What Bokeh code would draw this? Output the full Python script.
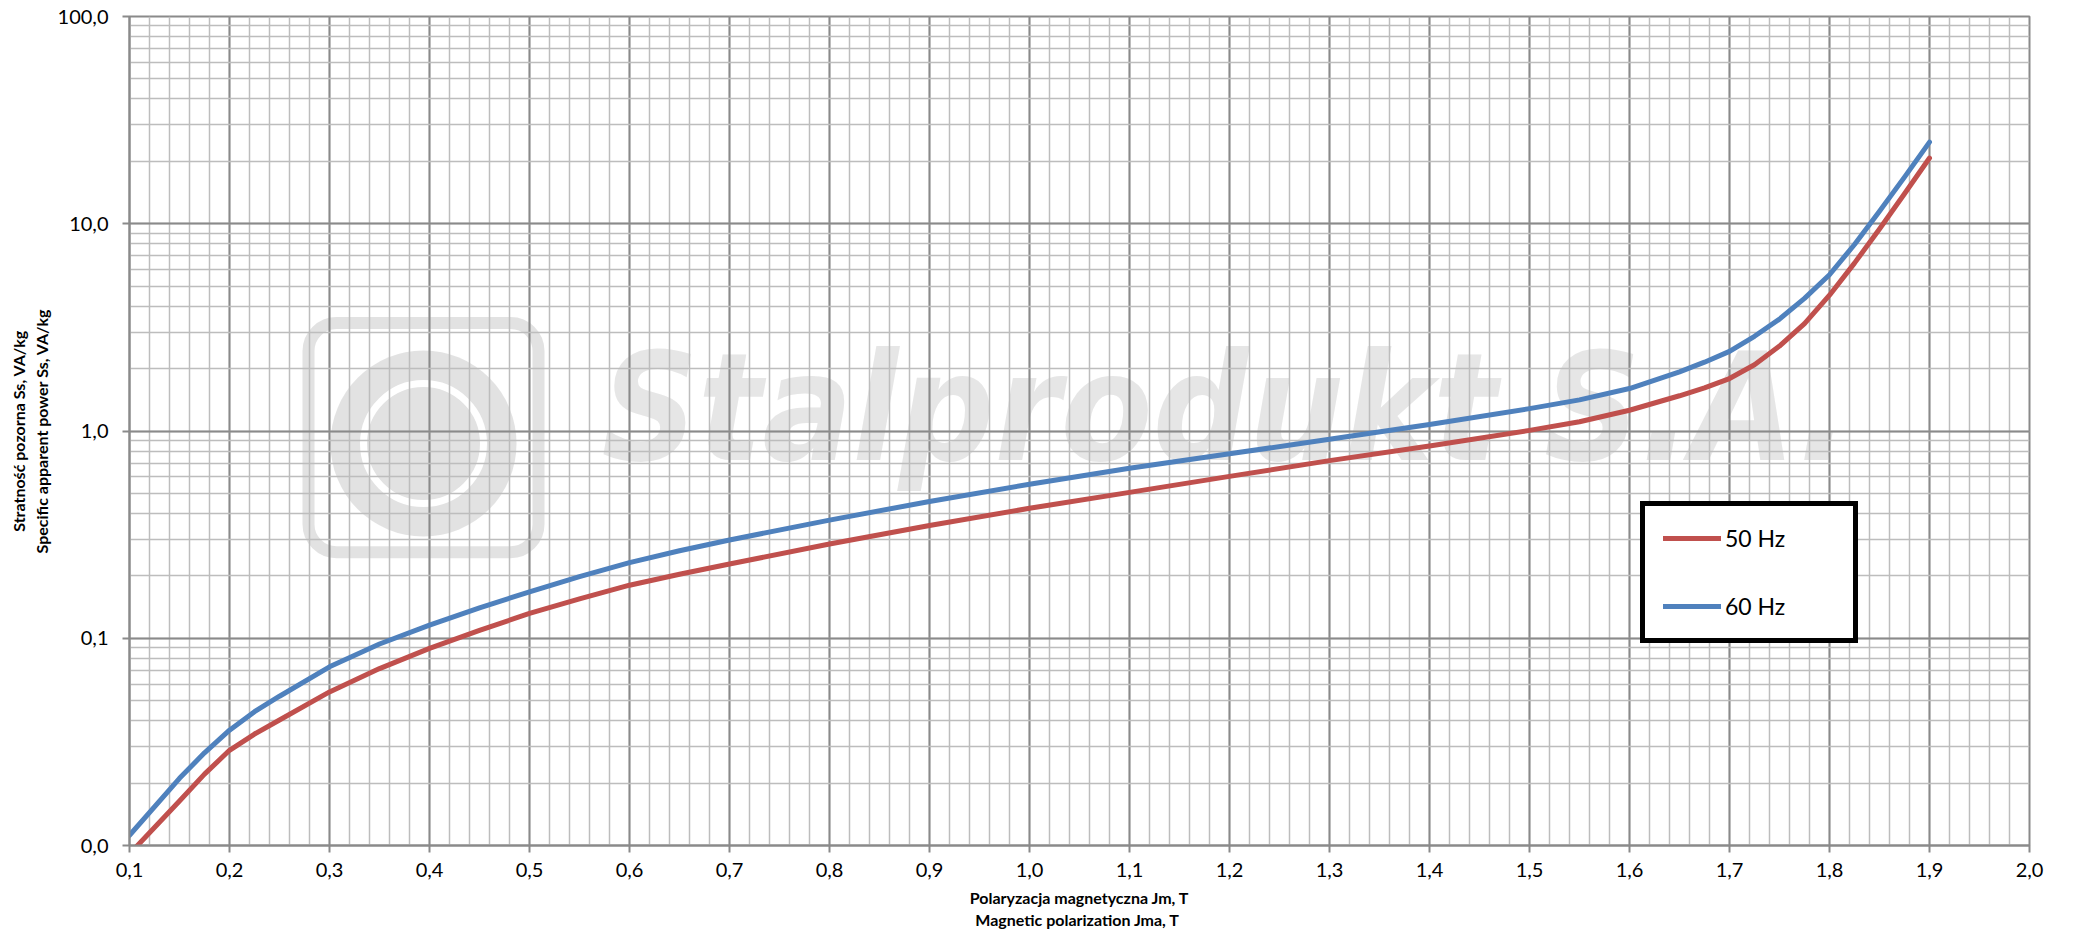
from bokeh.plotting import figure
from bokeh.models import (Range1d, FixedTicker, CustomJSTickFormatter, Legend,
                          LegendItem, BoxAnnotation, Label)
from bokeh.embed import file_html
from bokeh.resources import INLINE

# ---- data ----
jm_50hz = [0.10, 0.15, 0.175, 0.20, 0.225, 0.25, 0.30, 0.35, 0.40, 0.45, 0.50,
           0.55, 0.60, 0.65, 0.70, 0.80, 0.90, 1.00, 1.10, 1.20, 1.30, 1.40,
           1.50, 1.55, 1.60, 1.65, 1.675, 1.70, 1.725, 1.75, 1.775, 1.80,
           1.825, 1.85, 1.875, 1.90]
ss_50hz = [0.0091, 0.0164, 0.0221, 0.0288, 0.0345, 0.0403, 0.0551, 0.0714,
           0.0893, 0.1091, 0.1318, 0.1549, 0.1803, 0.2037, 0.2280, 0.2851,
           0.3499, 0.4236, 0.5058, 0.6039, 0.7194, 0.8472, 1.007, 1.109,
           1.259, 1.479, 1.614, 1.791, 2.089, 2.570, 3.296, 4.520, 6.457,
           9.441, 13.96, 20.75]
jm_60hz = [0.10, 0.15, 0.175, 0.20, 0.225, 0.25, 0.30, 0.35, 0.40, 0.45, 0.50,
           0.55, 0.60, 0.65, 0.70, 0.80, 0.90, 1.00, 1.10, 1.20, 1.30, 1.40,
           1.50, 1.55, 1.60, 1.65, 1.675, 1.70, 1.725, 1.75, 1.775, 1.80,
           1.825, 1.85, 1.875, 1.90]
ss_60hz = [0.0112, 0.0211, 0.0280, 0.0360, 0.0442, 0.0525, 0.0728, 0.0938,
           0.1156, 0.1403, 0.1675, 0.1982, 0.2317, 0.2642, 0.2979, 0.3715,
           0.4571, 0.5534, 0.6607, 0.7762, 0.9120, 1.074, 1.282, 1.413,
           1.603, 1.928, 2.148, 2.421, 2.864, 3.467, 4.365, 5.675, 7.943,
           11.48, 16.79, 24.77]
series_labels = ["50 Hz", "60 Hz"]

x_ticks = [round(0.1 * i, 1) for i in range(1, 21)]
x_minor = [round(0.1 + 0.02 * i, 2) for i in range(96)]
y_ticks = [0.01, 0.1, 1.0, 10.0, 100.0]
y_minor = [m * 10.0 ** e for e in range(-2, 2) for m in range(1, 10)] + [100.0]

x_title = "Polaryzacja magnetyczna Jm, T\nMagnetic polarization  Jma, T"
y_title = "Stratność pozorna Ss, VA/kg\nSpecific apparent power Ss, VA/kg"
watermark_text = "Stalprodukt S.A."

# ---- styling ----
FONT = "Lato"
GRID_MAJOR = "#8a8a8a"
GRID_MINOR = "#bdbdbd"
RED = "#C0504D"
BLUE = "#4F81BD"
WM = "#d6d6d6"

p = figure(width=2070, height=940, y_axis_type="log",
           x_range=Range1d(0.1, 2.0), y_range=Range1d(0.01, 100),
           output_backend="svg", toolbar_location=None,
           min_border_left=129, min_border_right=41, min_border_top=16,
           min_border_bottom=95,
           background_fill_color="white", border_fill_color="white",
           outline_line_color=GRID_MAJOR, outline_line_width=2)

# watermark (background, below the grid)
logo_box = BoxAnnotation(left=0.279, right=0.509, top=3.32, bottom=0.26,
                         fill_color=None, line_color=WM, line_width=12,
                         line_alpha=0.7, border_radius=28, level="image")
p.add_layout(logo_box)
logo_x = [0.394]
logo_y = [0.87]
p.scatter(logo_x, logo_y, marker="circle", size=186, fill_color=WM,
          fill_alpha=0.7, line_color=None, level="image")
p.scatter(logo_x, logo_y, marker="circle", size=120, fill_color=None,
          line_color="white", line_width=7, level="image")
wm = Label(x=0.572, y=1.28, text=watermark_text,
           text_font="'DejaVu Sans Condensed', 'DejaVu Sans'",
           text_font_style="bold italic", text_font_size="149px",
           text_baseline="alphabetic",
           text_color=WM, text_alpha=0.6, level="image")
p.add_layout(wm)

# axes
p.xaxis.ticker = FixedTicker(ticks=x_ticks, minor_ticks=x_minor)
p.yaxis.ticker = FixedTicker(ticks=y_ticks, minor_ticks=y_minor)
fmt = "return tick.toFixed(1).replace('.', ',');"
p.xaxis.formatter = CustomJSTickFormatter(code=fmt)
p.yaxis.formatter = CustomJSTickFormatter(code=fmt)
p.xaxis.axis_label = x_title
p.yaxis.axis_label = y_title

for ax in (p.xaxis[0], p.yaxis[0]):
    ax.axis_line_color = GRID_MAJOR
    ax.axis_line_width = 2
    ax.major_tick_line_color = GRID_MAJOR
    ax.major_tick_line_width = 2
    ax.major_tick_in = 0
    ax.major_tick_out = 7
    ax.minor_tick_line_color = None
    ax.major_label_text_font = FONT
    ax.major_label_text_font_size = "20px"
    ax.major_label_text_color = "black"
    ax.axis_label_text_font = FONT
    ax.axis_label_text_font_style = "bold"
    ax.axis_label_text_font_size = "16px"
    ax.axis_label_text_color = "black"
p.xaxis.major_label_standoff = 10
p.yaxis.major_label_standoff = 14
p.xaxis.axis_label_standoff = 8
p.yaxis.axis_label_standoff = 4

for g in (p.xgrid[0], p.ygrid[0]):
    g.grid_line_color = GRID_MAJOR
    g.grid_line_width = 2
    g.minor_grid_line_color = GRID_MINOR
    g.minor_grid_line_width = 1.5

# series
r50 = p.line(jm_50hz, ss_50hz, line_color=RED, line_width=5,
             line_cap="round", line_join="round")
r60 = p.line(jm_60hz, ss_60hz, line_color=BLUE, line_width=5,
             line_cap="round", line_join="round")

legend = Legend(items=[LegendItem(label=series_labels[0], renderers=[r50]),
                       LegendItem(label=series_labels[1], renderers=[r60])],
                location=(1511, 202), orientation="vertical",
                border_line_color="black", border_line_width=5,
                border_line_alpha=1.0,
                background_fill_color="white", background_fill_alpha=1.0,
                label_text_font=FONT, label_text_font_size="23px",
                label_text_color="black",
                glyph_width=58, glyph_height=24, label_height=24,
                label_width=110, spacing=40, padding=18, margin=0,
                label_standoff=4)
p.add_layout(legend)

open("out.html", "w").write(file_html(p, INLINE))
